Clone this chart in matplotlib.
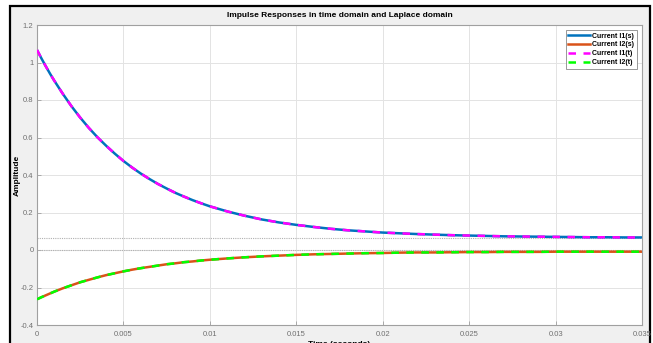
import matplotlib
matplotlib.use("Agg")
import matplotlib.pyplot as plt
from matplotlib.patches import Rectangle

plt.rcParams['font.family'] = ['Liberation Sans', 'DejaVu Sans']

# readings
t = [0.0, 0.00025, 0.0005, 0.00075, 0.001, 0.0015, 0.002, 0.0025, 0.003, 0.0035,
     0.004, 0.0045, 0.005, 0.0055, 0.006, 0.0065, 0.007, 0.0075, 0.008, 0.0085,
     0.009, 0.0095, 0.010, 0.011, 0.012, 0.013, 0.014, 0.015, 0.016, 0.017,
     0.018, 0.019, 0.020, 0.021, 0.022, 0.023, 0.024, 0.025, 0.026, 0.027,
     0.028, 0.029, 0.030, 0.031, 0.032, 0.033, 0.034, 0.035]
i1 = [1.067, 1.023, 0.981, 0.941, 0.903, 0.832, 0.766, 0.706, 0.651, 0.601,
      0.556, 0.514, 0.475, 0.440, 0.408, 0.379, 0.352, 0.328, 0.305, 0.285,
      0.266, 0.249, 0.233, 0.206, 0.183, 0.163, 0.147, 0.134, 0.123, 0.113,
      0.105, 0.099, 0.093, 0.089, 0.085, 0.082, 0.079, 0.077, 0.075, 0.073,
      0.072, 0.071, 0.070, 0.069, 0.068, 0.068, 0.067, 0.067]
i2 = [-0.263, -0.252, -0.242, -0.232, -0.222, -0.204, -0.188, -0.172, -0.159, -0.146,
      -0.134, -0.124, -0.114, -0.105, -0.097, -0.090, -0.083, -0.076, -0.071, -0.065,
      -0.061, -0.056, -0.052, -0.045, -0.039, -0.034, -0.030, -0.026, -0.023, -0.021,
      -0.019, -0.017, -0.016, -0.014, -0.013, -0.013, -0.012, -0.011, -0.011, -0.010,
      -0.010, -0.010, -0.009, -0.009, -0.009, -0.009, -0.009, -0.009]
steady = [0.065, 0.0]
labels = ["Current I1(s)", "Current I2(s)", "Current I1(t)", "Current I2(t)"]
xticks = [0, 0.005, 0.01, 0.015, 0.02, 0.025, 0.03, 0.035]
xticklabels = ["0", "0.005", "0.01", "0.015", "0.02", "0.025", "0.03", "0.035"]
yticks = [-0.4, -0.2, 0, 0.2, 0.4, 0.6, 0.8, 1, 1.2]
yticklabels = ["-0.4", "-0.2", "0", "0.2", "0.4", "0.6", "0.8", "1", "1.2"]

W, H = 653, 343
fig = plt.figure(figsize=(W / 100, H / 100), dpi=100)
fig.patch.set_facecolor("white")
# gray window area with black frame
fig.patches.append(Rectangle((9.5 / W, -0.05), (650 - 9.5) / W, 1.05 - 5.5 / H,
                             transform=fig.transFigure, facecolor="#f0f0f0",
                             edgecolor="black", linewidth=1.6, zorder=-10))

ax = fig.add_axes([37 / W, (H - 325) / H, 605 / W, 300 / H])
ax.set_zorder(5)
ax.set_facecolor("white")

for lv in steady:
    ax.axhline(lv, color="#b0b0b0", linestyle=(0, (1, 1)), linewidth=0.8, zorder=1)

ax.plot(t, i1, color="#0072BD", linewidth=1.8, label=labels[0], zorder=2)
ax.plot(t, i2, color="#D95319", linewidth=1.8, label=labels[1], zorder=2)
ax.plot(t, i1, color="#FF00FF", linewidth=1.8, linestyle=(0, (3, 3)), label=labels[2], zorder=3)
ax.plot(t, i2, color="#00FF00", linewidth=1.8, linestyle=(0, (3, 3)), label=labels[3], zorder=3)

ax.set_xlim(0, 0.035)
ax.set_ylim(-0.4, 1.2)
ax.set_xticks(xticks)
ax.set_xticklabels(xticklabels)
ax.set_yticks(yticks)
ax.set_yticklabels(yticklabels)
ax.grid(True, color="#e3e3e3", linewidth=0.7)
ax.set_axisbelow(True)
ax.tick_params(direction="in", length=3, width=0.6, colors="#a0a0a0",
               labelsize=5.5, labelcolor="#707070", pad=4)
ax.tick_params(axis="y", pad=2.5)
for s in ax.spines.values():
    s.set_color("#a0a0a0")
    s.set_linewidth(0.8)

ax.set_title("Impulse Responses in time domain and Laplace domain",
             fontsize=6, fontweight="bold", pad=6)
ax.set_xlabel("Time (seconds)", fontsize=6, fontweight="bold")
ax.xaxis.set_label_coords(0.5, -0.055)
ax.set_ylabel("Amplitude", fontsize=6, fontweight="bold")
ax.yaxis.set_label_coords(-0.027, 0.5)

leg = ax.legend(loc="upper right", bbox_to_anchor=(0.9915, 0.983),
                prop={"weight": "bold", "size": 5}, handlelength=3.2,
                handletextpad=0.3, borderpad=0.35, labelspacing=0.28,
                fancybox=False, framealpha=1, edgecolor="#888888",
                borderaxespad=0)
leg.get_frame().set_linewidth(0.6)

fig.savefig("out.png", dpi=100)
